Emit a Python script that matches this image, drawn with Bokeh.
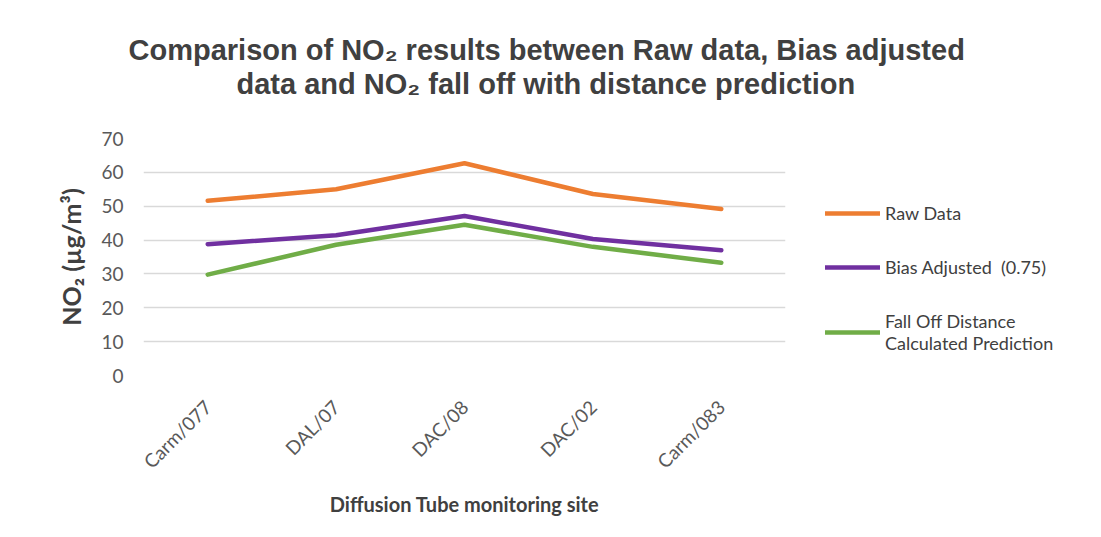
import math
from bokeh.plotting import figure
from bokeh.models import FactorRange, Range1d, Legend, LegendItem, Title, FixedTicker
from bokeh.embed import file_html
from bokeh.resources import INLINE

sites = ["Carm/077", "DAL/07", "DAC/08", "DAC/02", "Carm/083"]
raw = [51.6, 55.0, 62.7, 53.6, 49.2]
bias = [38.8, 41.4, 47.1, 40.3, 37.0]
falloff = [29.8, 38.6, 44.5, 38.0, 33.3]
series_names = ["Raw Data", "Bias Adjusted  (0.75)", "Fall Off Distance\nCalculated Prediction"]
colors = ["#ED7D31", "#7030A0", "#70AD47"]
y_ticks = [0, 10, 20, 30, 40, 50, 60, 70]
title_lines = ["Comparison of NO\u2082 results between Raw data, Bias adjusted",
               "data and NO\u2082 fall off with distance prediction"]
y_title = "NO\u2082 (\u00b5g/m\u00b3)"
x_title = "Diffusion Tube monitoring site"

p = figure(frame_width=642, frame_height=237,
           x_range=FactorRange(*sites, range_padding=0),
           y_range=Range1d(0, 70),
           output_backend="svg", toolbar_location=None,
           min_border_left=143, min_border_right=310,
           min_border_top=138, min_border_bottom=146)
p.outline_line_color = None
p.background_fill_color = "white"
p.border_fill_color = "white"

p.xgrid.grid_line_color = None
p.ygrid.grid_line_color = "#D9D9D9"
p.ygrid.grid_line_width = 1.3
p.yaxis.ticker = FixedTicker(ticks=y_ticks)

for ax in (p.xaxis[0], p.yaxis[0]):
    ax.axis_line_color = None
    ax.major_tick_line_color = None
    ax.minor_tick_line_color = None
    ax.major_label_text_font = "Lato"
    ax.major_label_text_font_size = "19px"
    ax.major_label_text_color = "#595959"
    ax.axis_label_text_font = "Lato"
    ax.axis_label_text_font_style = "bold"
    ax.axis_label_text_color = "#404040"

p.yaxis.major_label_standoff = 14
p.yaxis.axis_label = y_title
p.yaxis.axis_label_text_font_size = "25px"
p.yaxis.axis_label_standoff = 12

p.xaxis.major_label_orientation = math.pi / 4
p.xaxis.major_label_standoff = 22
p.xaxis.axis_label = x_title
p.xaxis.axis_label_text_font_size = "20px"
p.xaxis.axis_label_standoff = 8

renderers = []
for vals, c in zip([raw, bias, falloff], colors):
    r = p.line(x=sites, y=vals, line_color=c, line_width=4.5,
               line_cap="round", line_join="round")
    renderers.append(r)

legend = Legend(items=[LegendItem(label=n, renderers=[r]) for n, r in zip(series_names, renderers)],
                location=(40, 21))
legend.border_line_color = None
legend.background_fill_alpha = 0
legend.padding = 0
legend.margin = 0
legend.spacing = 32
legend.glyph_width = 55
legend.glyph_height = 20
legend.label_standoff = 5
legend.label_text_font = "Lato"
legend.label_text_font_size = "18px"
legend.label_text_line_height = 1.6
legend.label_text_color = "#404040"
p.add_layout(legend, "right")

# titles: stacked outward from the frame (spacer, line 2, line 1)
title_style = dict(text_font="Liberation Sans", text_font_style="bold",
                   text_font_size="29px", text_color="#404040", align="left")
p.add_layout(Title(text=" ", text_font_size="10px", standoff=26), "above")
p.add_layout(Title(text=title_lines[1], offset=93, standoff=0, **title_style), "above")
p.add_layout(Title(text=title_lines[0], offset=-15, standoff=0, **title_style), "above")

open("out.html", "w").write(file_html(p, INLINE))
